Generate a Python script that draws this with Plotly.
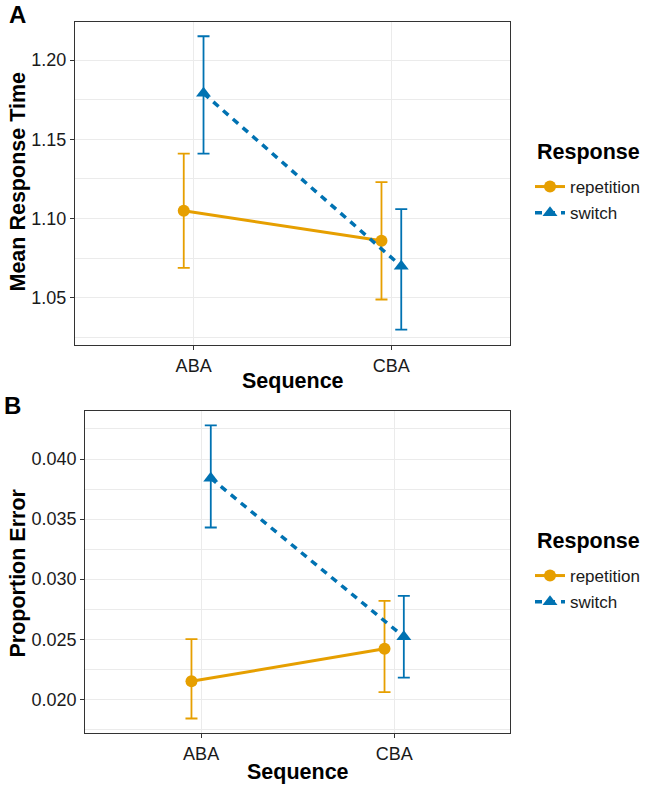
import plotly.graph_objects as go

# ---------------- data ----------------
sequences = ["ABA", "CBA"]
responses = ["repetition", "switch"]

# Panel A: mean response time
rt_rep_mean = [1.105, 1.086]
rt_rep_low = [1.069, 1.049]
rt_rep_high = [1.141, 1.123]
rt_sw_mean = [1.179, 1.070]
rt_sw_low = [1.141, 1.030]
rt_sw_high = [1.215, 1.106]

# Panel B: proportion error
pe_rep_mean = [0.0215, 0.0242]
pe_rep_low = [0.0184, 0.0206]
pe_rep_high = [0.0250, 0.0282]
pe_sw_mean = [0.0384, 0.0252]
pe_sw_low = [0.0343, 0.0218]
pe_sw_high = [0.0428, 0.0286]

rt_ticks = [1.05, 1.10, 1.15, 1.20]
pe_ticks = [0.020, 0.025, 0.030, 0.035, 0.040]

# ---------------- style ----------------
ORANGE = "#E69F00"
BLUE = "#0072B2"
FONT = "Liberation Sans, Arial, Helvetica, sans-serif"
DODGE = 0.05

fig = go.Figure()


def add_series(mean, low, high, name, color, offset, symbol, msize, width, dash, xa, ya, legend):
    xs = [i + 1 + offset for i in range(len(sequences))]
    fig.add_trace(go.Scatter(
        x=xs, y=mean, name=name, mode="lines+markers",
        xaxis=xa, yaxis=ya, legend=legend, legendgroup=legend + name,
        line=dict(color=color, width=width, dash=dash),
        marker=dict(color=color, size=msize, symbol=symbol),
        error_y=dict(type="data", symmetric=False,
                     array=[h - m for h, m in zip(high, mean)],
                     arrayminus=[m - l for m, l in zip(mean, low)],
                     color=color, thickness=1.8, width=6),
    ))


add_series(rt_rep_mean, rt_rep_low, rt_rep_high, responses[0], ORANGE, -DODGE,
           "circle", 12, 3, "solid", "x", "y", "legend")
add_series(rt_sw_mean, rt_sw_low, rt_sw_high, responses[1], BLUE, DODGE,
           "triangle-up", 13, 3.5, "7px,6px", "x", "y", "legend")
add_series(pe_rep_mean, pe_rep_low, pe_rep_high, responses[0], ORANGE, -DODGE,
           "circle", 12, 3, "solid", "x2", "y2", "legend2")
add_series(pe_sw_mean, pe_sw_low, pe_sw_high, responses[1], BLUE, DODGE,
           "triangle-up", 13, 3.5, "7px,6px", "x2", "y2", "legend2")

W, H = 648, 787


def px_x(p):
    return p / W


def px_y(p):
    return 1 - p / H


axis_common = dict(
    showline=True, mirror=True, linecolor="#333333", linewidth=1.2,
    ticks="outside", ticklen=4, tickcolor="#333333", tickwidth=1,
    gridcolor="#EBEBEB", gridwidth=1.3, zeroline=False,
    tickfont=dict(family=FONT, size=18, color="#1a1a1a"),
)

xaxis_common = dict(axis_common, range=[0.4, 2.6], tickmode="array",
                    tickvals=[1, 2], ticktext=sequences)

legend_common = dict(xanchor="left", yanchor="top",
                     font=dict(family=FONT, size=17, color="#1a1a1a"),
                     traceorder="grouped", tracegroupgap=1,
                     bgcolor="rgba(0,0,0,0)")

fig.update_layout(
    width=W, height=H,
    margin=dict(l=0, r=0, t=0, b=0),
    paper_bgcolor="white", plot_bgcolor="white",
    font=dict(family=FONT),
    xaxis=dict(xaxis_common, domain=[px_x(75), px_x(510)], anchor="y"),
    yaxis=dict(axis_common, domain=[px_y(345), px_y(22)], anchor="x",
               range=[1.0203, 1.224], tickmode="array", tickvals=rt_ticks,
               ticktext=[f"{v:.2f}" for v in rt_ticks],
               minor=dict(dtick=0.025, tick0=1.0, showgrid=True,
                          gridcolor="#EBEBEB", gridwidth=0.8, ticks="")),
    xaxis2=dict(xaxis_common, domain=[px_x(85.3), px_x(510)], anchor="y2"),
    yaxis2=dict(axis_common, domain=[px_y(733.3), px_y(410.7)], anchor="x2",
                range=[0.01717, 0.04402], tickmode="array", tickvals=pe_ticks,
                ticktext=[f"{v:.3f}" for v in pe_ticks],
                minor=dict(dtick=0.0025, tick0=0.0, showgrid=True,
                           gridcolor="#EBEBEB", gridwidth=0.8, ticks="")),
    legend=dict(legend_common, x=px_x(530), y=px_y(169)),
    legend2=dict(legend_common, x=px_x(530), y=px_y(558)),
)

ann_font = dict(family=FONT, size=21.5, color="#000", weight="bold")
annotations = [
    dict(text="Mean Response Time", x=px_x(17), y=px_y(182.5), textangle=-90, xanchor="center"),
    dict(text="Sequence", x=px_x(292.5), y=px_y(381), xanchor="center"),
    dict(text="Proportion Error", x=px_x(17), y=px_y(573.5), textangle=-90, xanchor="center"),
    dict(text="Sequence", x=px_x(297.7), y=px_y(772), xanchor="center"),
    dict(text="Response", x=px_x(535), y=px_y(152), xanchor="left"),
    dict(text="Response", x=px_x(535), y=px_y(541), xanchor="left"),
]
for a in annotations:
    fig.add_annotation(xref="paper", yref="paper", showarrow=False,
                       yanchor="middle", font=ann_font, **a)

for letter, xx, yy in [("A", 17, 14.5), ("B", 12, 405)]:
    fig.add_annotation(text=letter, xref="paper", yref="paper", showarrow=False,
                       x=px_x(xx), y=px_y(yy), xanchor="center", yanchor="middle",
                       font=dict(family=FONT, size=24, color="#000", weight="bold"))

fig.write_html("out.html",
               config={"displayModeBar": False},
               post_script="document.body.style.margin='0';document.body.style.overflow='hidden';")
